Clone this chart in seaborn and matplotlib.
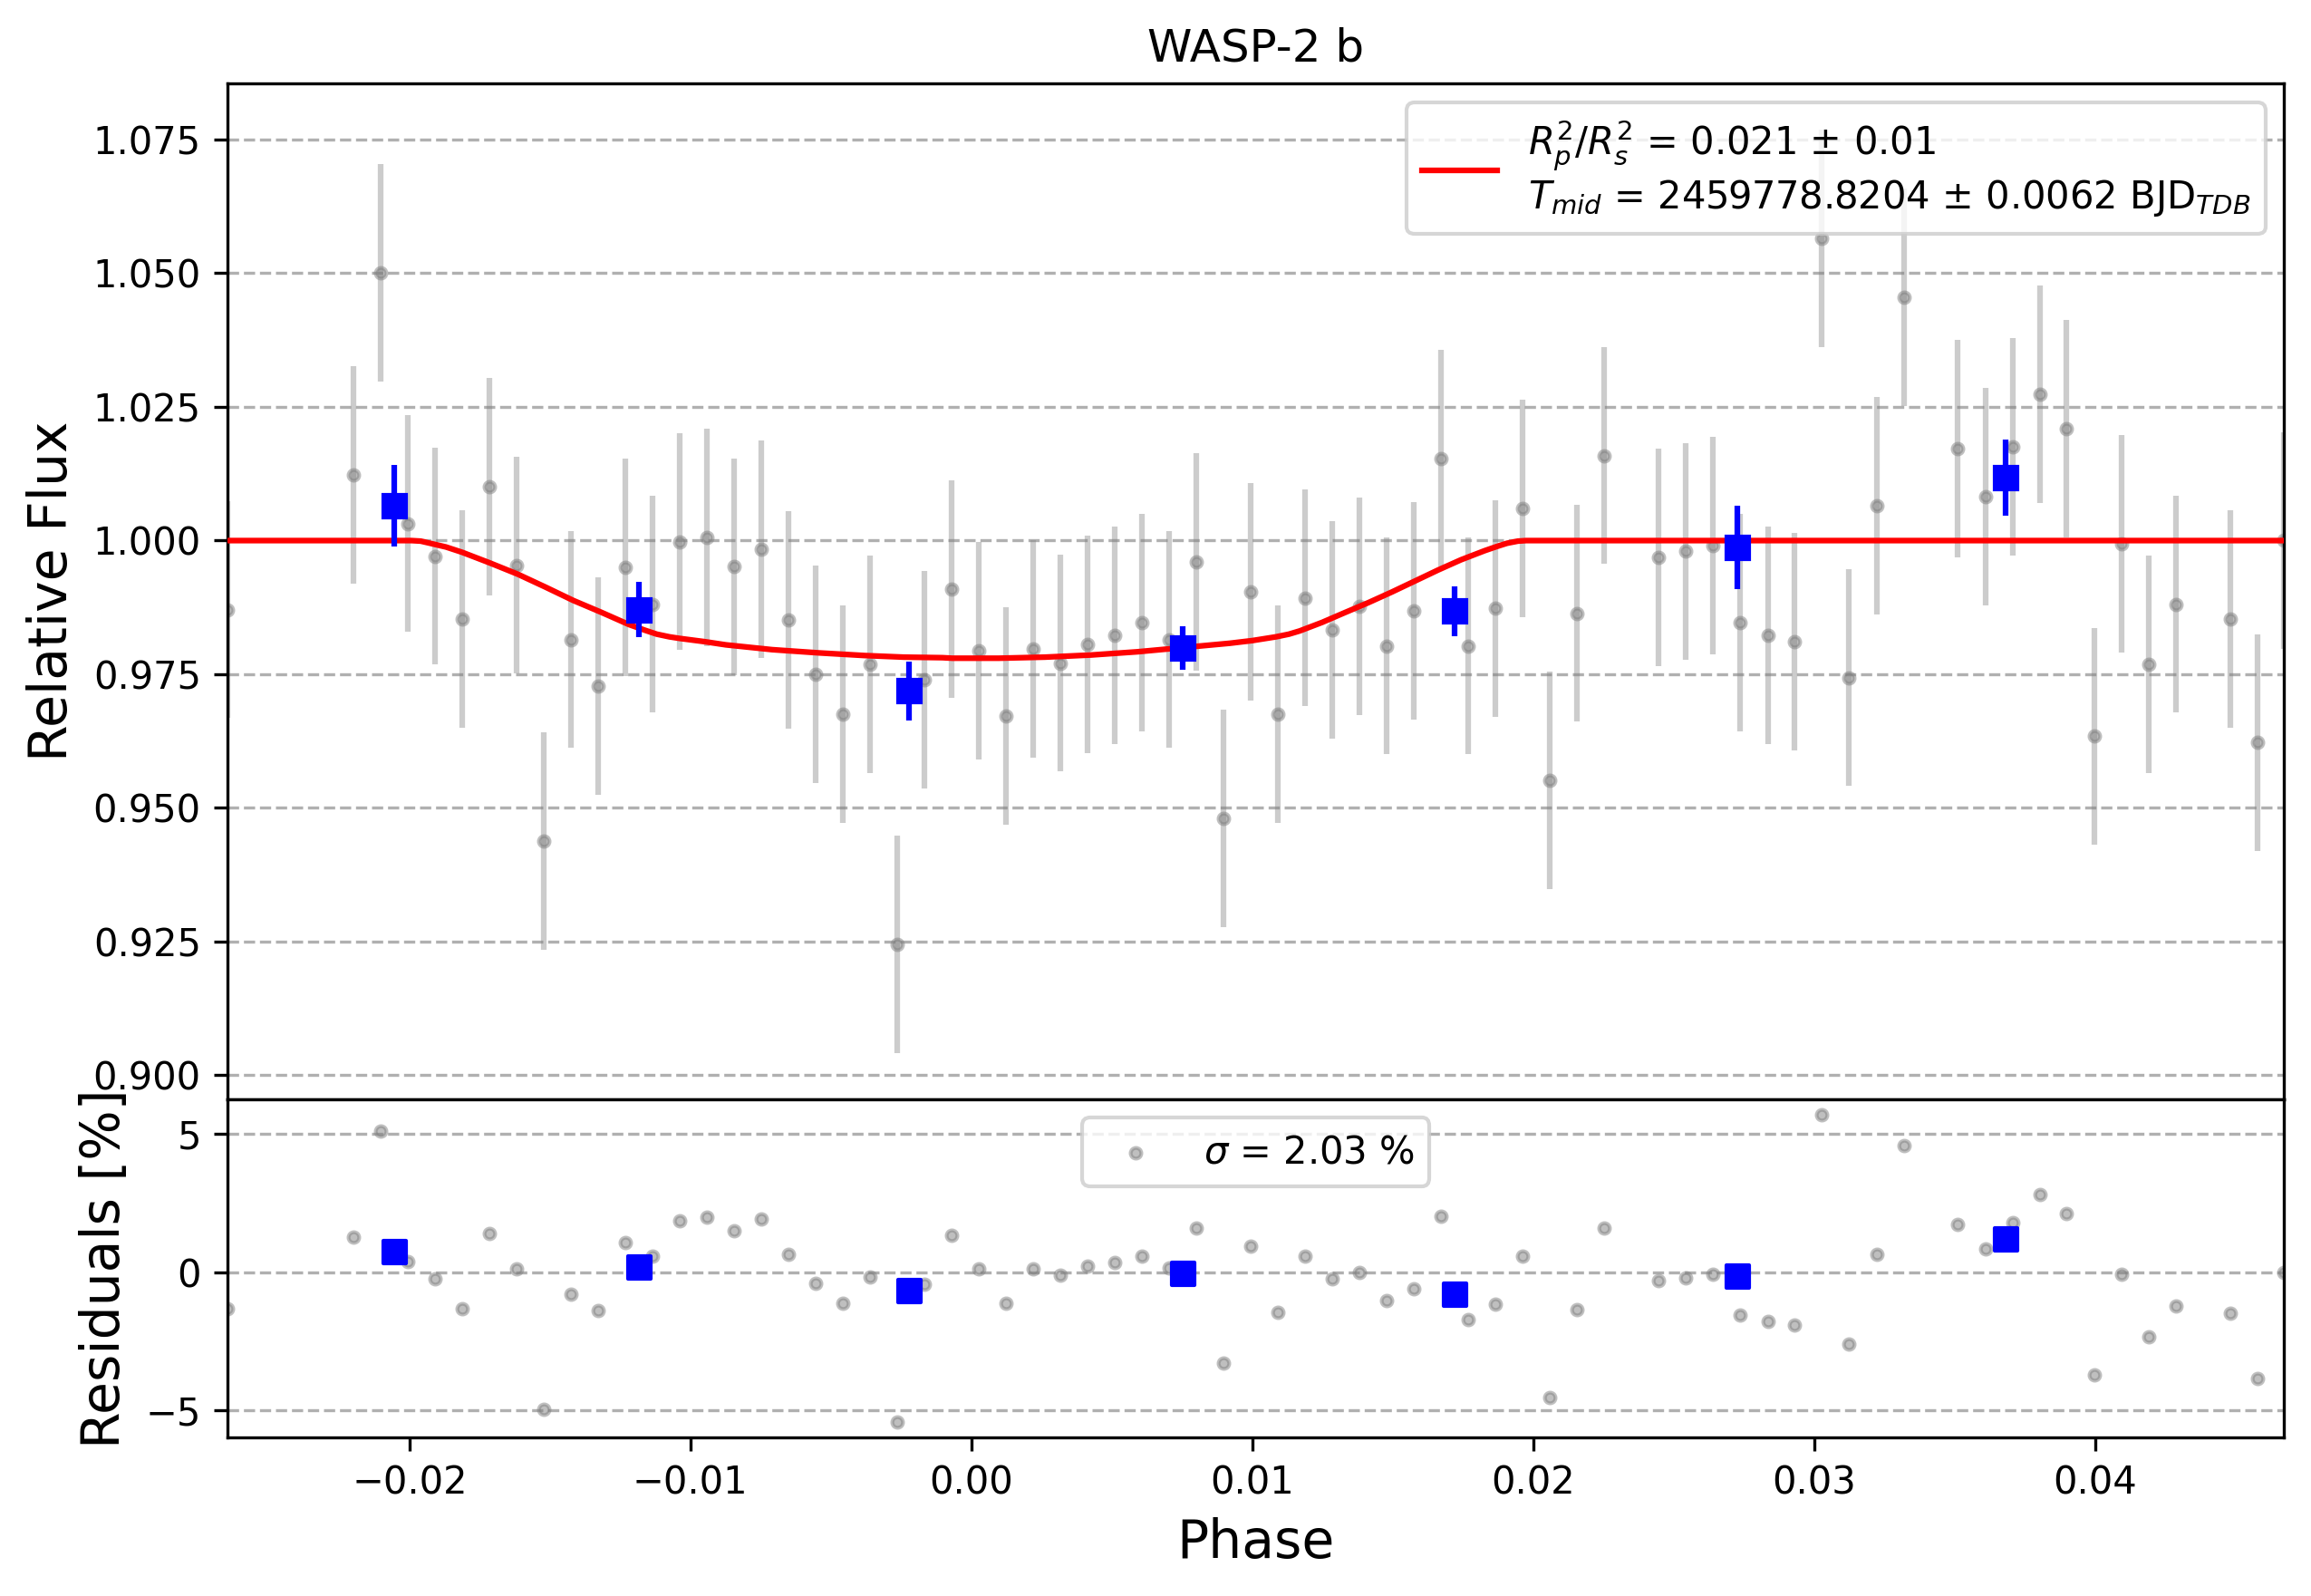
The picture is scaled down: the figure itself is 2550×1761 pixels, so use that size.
import numpy as np
import matplotlib
matplotlib.use("Agg")
import matplotlib.pyplot as plt
import seaborn as sns

# ---------------- data ----------------
phase = [-0.02648, -0.02200, -0.02103, -0.02006, -0.01910, -0.01813, -0.01716, -0.01619,
         -0.01522, -0.01426, -0.01329, -0.01232, -0.01135, -0.01038, -0.00942, -0.00845,
         -0.00748, -0.00651, -0.00554, -0.00458, -0.00361, -0.00264, -0.00167, -0.00070,
         0.00026, 0.00123, 0.00220, 0.00317, 0.00414, 0.00510, 0.00607, 0.00704,
         0.00801, 0.00898, 0.00994, 0.01091, 0.01188, 0.01285, 0.01382, 0.01478,
         0.01575, 0.01672, 0.01769, 0.01866, 0.01962, 0.02059, 0.02156, 0.02253,
         0.02446, 0.02543, 0.02640, 0.02737, 0.02834, 0.02930, 0.03027, 0.03124,
         0.03221, 0.03318,
         0.03511, 0.03608, 0.03705, 0.03802, 0.03898, 0.03995, 0.04092, 0.04189, 0.04286,
         0.04479, 0.04576, 0.04672]

flux = [0.9871,
        1.0123, 1.0501, 1.0032, 0.9971, 0.9853, 1.0101, 0.9954, 0.9438, 0.9815, 0.9728,
        0.9950, 0.9881, 0.9998, 1.0006, 0.9951, 0.9984, 0.9852, 0.9750, 0.9675, 0.9769,
        0.9245, 0.9740,
        0.9909, 0.9794, 0.9672, 0.9797, 0.9771, 0.9806, 0.9823, 0.9847, 0.9815, 0.9960,
        0.9480, 0.9904, 0.9675, 0.9893, 0.9833, 0.9877, 0.9803, 0.9869, 1.0154, 0.9803,
        0.9873, 1.0060, 0.9552, 0.9864, 1.0159,
        0.9969, 0.9980, 0.9991, 0.9847, 0.9823, 0.9811, 1.0565, 0.9744, 1.0065, 1.0455,
        1.0172, 1.0082, 1.0175, 1.0274, 1.0209, 0.9634, 0.9994, 0.9769, 0.9881,
        0.9853, 0.9622,
        1.0000]

flux_err = 0.0203

residuals = [-1.33,
             1.25, 5.10, 0.37, -0.23, -1.33, 1.41, 0.13, -4.97, -0.80, -1.41,
             1.07, 0.56, 1.84, 2.00, 1.51, 1.91, 0.63, -0.41, -1.12, -0.18,
             -5.43, -0.43,
             1.32, 0.12, -1.12, 0.13, -0.10, 0.23, 0.36, 0.56, 0.15, 1.60,
             -3.29, 0.95, -1.46, 0.56, -0.23, -0.01, -1.02, -0.60, 2.03, -1.72,
             -1.18, 0.59, -4.54, -1.36, 1.60,
             -0.31, -0.21, -0.07, -1.55, -1.79, -1.92, 5.71, -2.61, 0.65, 4.59,
             1.73, 0.84, 1.78, 2.80, 2.13, -3.72, -0.08, -2.35, -1.22,
             -1.48, -3.86,
             0.00]

bin_phase = [-0.02054, -0.01183, -0.00223, 0.00752, 0.01719, 0.02727, 0.03681]
bin_flux = [1.0065, 0.9871, 0.9719, 0.9799, 0.9868, 0.9988, 1.0118]
bin_err = [0.0076, 0.0052, 0.0055, 0.0040, 0.0047, 0.0078, 0.0071]
bin_resid = [0.75, 0.19, -0.67, -0.04, -0.80, -0.14, 1.21]

model_phase = [-0.02648, -0.01993, -0.01960, -0.01927, -0.01870, -0.01812, -0.01713,
               -0.01614, -0.01516, -0.01417, -0.01318, -0.01219, -0.01160, -0.01120,
               -0.01075, -0.01038, -0.00950, -0.00874, -0.00709, -0.00544, -0.00380,
               -0.00240, -0.00103, -0.00068, 0.00097, 0.00261, 0.00426, 0.00590,
               0.00755, 0.00920, 0.01000, 0.01084, 0.01130, 0.01168, 0.01248, 0.01332,
               0.01413, 0.01497, 0.01577, 0.01661, 0.01742, 0.01826, 0.01870, 0.01906,
               0.01945, 0.01974, 0.04672]
model_flux = [1.0000, 1.0000, 0.9999, 0.9995, 0.9988, 0.9978, 0.9958,
              0.9937, 0.9913, 0.9888, 0.9866, 0.9843, 0.9832, 0.9825,
              0.9820, 0.9817, 0.9811, 0.9805, 0.9796, 0.9790, 0.9785,
              0.9782, 0.9781, 0.9780, 0.9780, 0.9782, 0.9786, 0.9792,
              0.9800, 0.9808, 0.9813, 0.9820, 0.9825, 0.9831, 0.9847, 0.9866,
              0.9884, 0.9904, 0.9924, 0.9945, 0.9964, 0.9981, 0.9989, 0.9995,
              0.9999, 1.0000, 1.0000]

title = "WASP-2 b"
model_label = ("$R_p^2/R_s^2$ = 0.021 ± 0.01\n"
               "$T_{mid}$ = 2459778.8204 ± 0.0062 BJD$_{TDB}$")
resid_label = r"$\sigma$ = 2.03 %"

assert len(phase) == len(flux) == len(residuals)
assert len(model_phase) == len(model_flux)

# ---------------- figure ----------------
fig = plt.figure(figsize=(8.5, 5.87), dpi=300)
gs = fig.add_gridspec(2, 1, height_ratios=[3, 1], hspace=0,
                      left=0.0984, right=0.9884, top=0.9475, bottom=0.0994)
ax1 = fig.add_subplot(gs[0])
ax2 = fig.add_subplot(gs[1], sharex=ax1)

# top panel
ax1.errorbar(phase, flux, yerr=flux_err, fmt='none', ecolor='gray',
             alpha=0.4, elinewidth=1.5, zorder=2)
sns.scatterplot(x=phase, y=flux, ax=ax1, color='gray', alpha=0.5, s=8,
                edgecolor='gray', linewidth=1.0, zorder=2.5, legend=False)
sns.lineplot(x=model_phase, y=model_flux, ax=ax1, color='red', linewidth=1.5,
             sort=False, estimator=None, label=model_label, zorder=3)
ax1.errorbar(bin_phase, bin_flux, yerr=bin_err, fmt='s', color='blue', ms=6,
             elinewidth=1.5, zorder=4)
ax1.set_ylabel("Relative Flux", fontsize=14)
ax1.set_xlabel("")
ax1.set_title(title, fontsize=12)
ax1.grid(axis='y', linestyle='--')
ax1.tick_params(axis='x', bottom=False, labelbottom=False)
ax1.legend(loc='upper right', fontsize=10)

# residual panel
sns.scatterplot(x=phase, y=residuals, ax=ax2, color='gray', alpha=0.5, s=8,
                edgecolor='gray', linewidth=1.0, zorder=2.5, label=resid_label)
sns.scatterplot(x=bin_phase, y=bin_resid, ax=ax2, color='blue', marker='s', s=36,
                edgecolor='blue', linewidth=1.0, zorder=4, legend=False)
ax2.set_ylabel("Residuals [%]", fontsize=14)
ax2.set_xlabel("Phase", fontsize=14)
ax2.grid(axis='y', linestyle='--')
ax2.legend(loc='upper center', fontsize=10)

ax1.set_xlim(min(phase), max(phase))

fig.savefig("out.png", dpi=300)
